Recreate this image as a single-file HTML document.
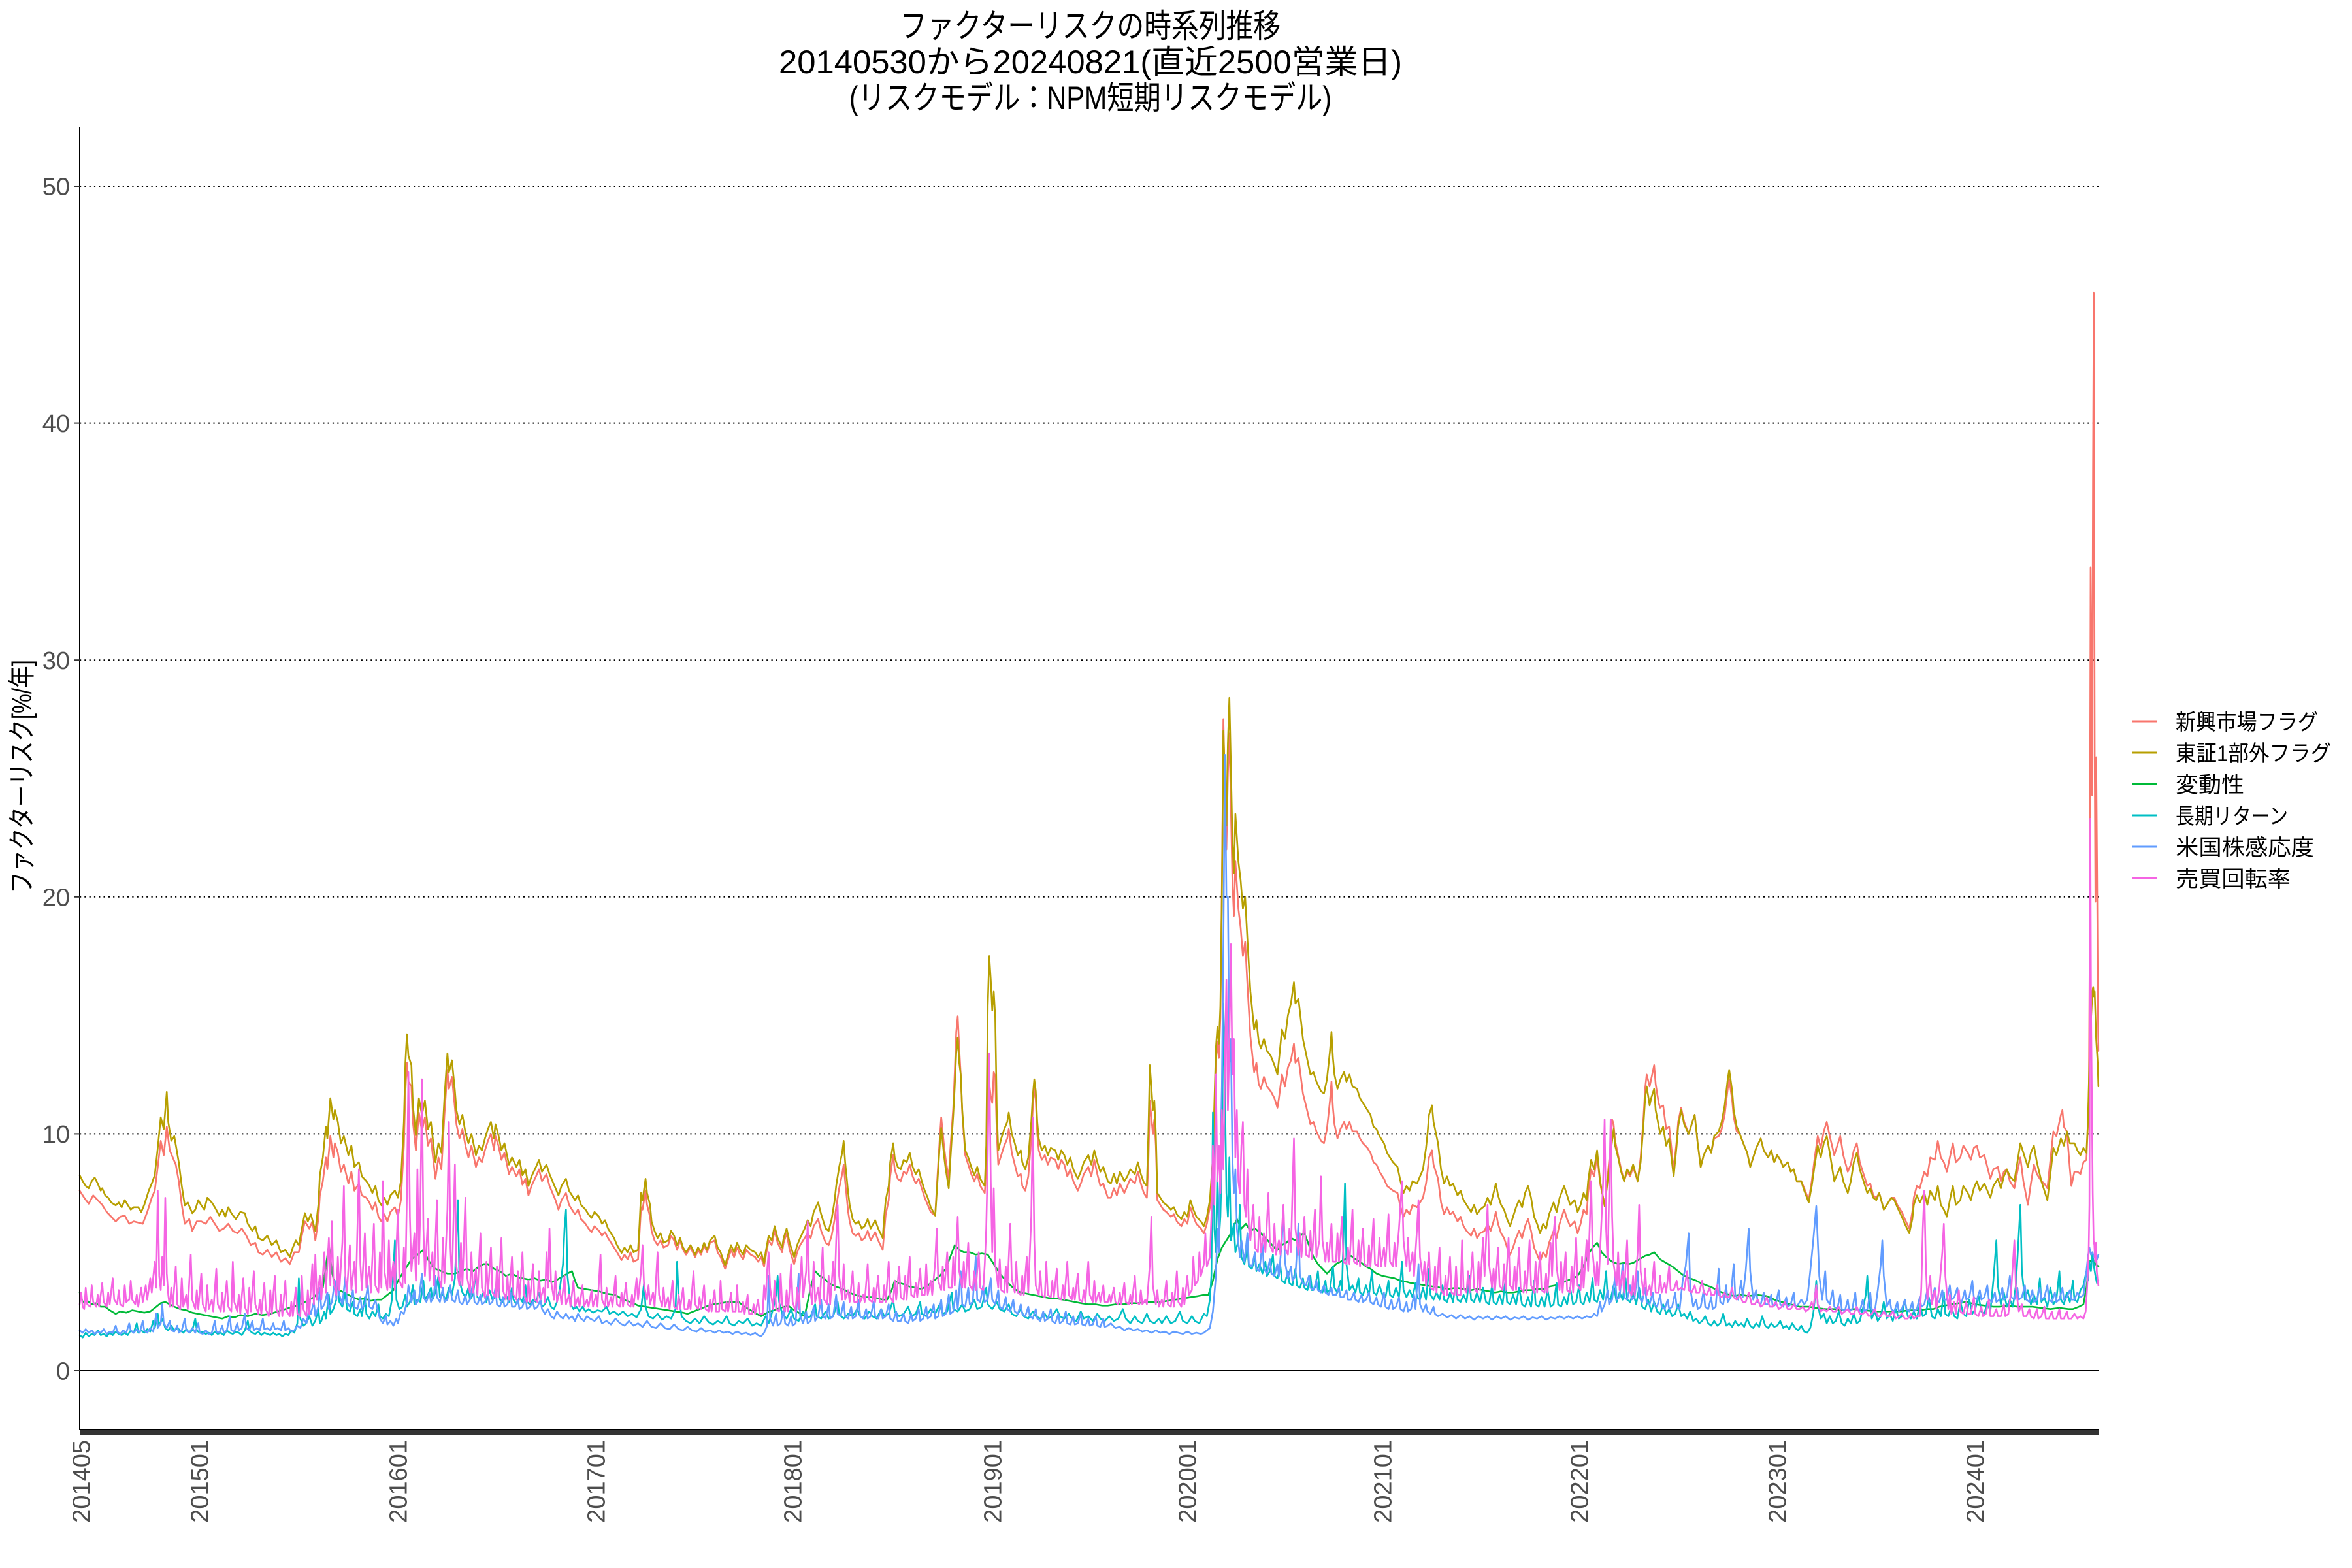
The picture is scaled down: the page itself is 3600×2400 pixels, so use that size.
<!DOCTYPE html>
<html>
<head>
<meta charset="utf-8">
<style>
html,body{margin:0;padding:0;background:#ffffff;}
svg{display:block;}
.jp{font-family:"Liberation Sans","Noto Sans CJK JP",sans-serif;}
.tick{font-family:"Liberation Sans",sans-serif;font-size:38px;fill:#4D4D4D;}
.s{fill:none;stroke-width:2.6;stroke-linejoin:round;stroke-linecap:round;vector-effect:non-scaling-stroke;}
</style>
</head>
<body>
<svg width="3600" height="2400" viewBox="0 0 3600 2400" xmlns="http://www.w3.org/2000/svg">
<rect x="0" y="0" width="3600" height="2400" fill="#ffffff"/>

<g class="jp" fill="#000000" font-size="50">
  <text x="1377" y="57" textLength="583" lengthAdjust="spacingAndGlyphs">ファクターリスクの時系列推移</text>
  <text x="1192" y="112" textLength="954" lengthAdjust="spacingAndGlyphs">20140530から20240821(直近2500営業日)</text>
  <text x="1300" y="167" textLength="738" lengthAdjust="spacingAndGlyphs">(リスクモデル：NPM短期リスクモデル)</text>
</g>

<g stroke="#000000" stroke-width="2" stroke-dasharray="2.2 5.1" fill="none">
  <line x1="122" x2="3212" y1="1735.4" y2="1735.4"/>
  <line x1="122" x2="3212" y1="1372.8" y2="1372.8"/>
  <line x1="122" x2="3212" y1="1010.2" y2="1010.2"/>
  <line x1="122" x2="3212" y1="647.6" y2="647.6"/>
  <line x1="122" x2="3212" y1="285" y2="285"/>
</g>

<g transform="matrix(2.2973 0 0 -36.26 0.243 2098)">
<path class="s" stroke="#F8766D" d="M53 7.6 56 7.3 59 7.05 62 7.4 65 7.2 68 7.0 71 6.7 74 6.5 77 6.3 80 6.5 83 6.55 86 6.2 89 6.3 92 6.25 95 6.2 98 6.7 101 7.3 103 7.6 105 8.6 107 9.7 109 9.1 111 10.3 113 9.3 115 9.0 117 8.7 119 8.0 121 7.0 123 6.2 126 6.4 128 5.9 131 6.3 134 6.3 137 6.2 140 6.5 143 6.2 146 5.9 149 6.0 152 6.2 155 5.9 158 5.8 161 6.0 164 5.7 167 5.3 170 5.4 172 5.0 175 4.9 178 5.1 181 4.8 184 5.0 187 4.6 190 4.75 193 4.5 196 5.0 199 5.0 201 5.7 203 6.3 206 6.0 208 6.3 210 5.5 212 6.4 213 7.4 215 8.0 217 9.0 218 8.5 220 9.9 222 9.0 223 9.6 225 9.2 227 8.4 229 8.7 232 7.9 234 8.4 236 7.6 239 7.9 241 7.4 244 7.3 246 7.1 248 6.8 250 7.1 252 6.5 254 6.3 256 6.6 258 6.3 260 6.7 263 6.9 265 6.5 267 7.2 269 9.5 270 11.8 271 13.0 272 12.2 274 12.0 275 10.5 277 9.3 279 10.9 281 10.1 283 10.7 285 9.5 287 9.8 290 8.1 292 9.0 294 8.5 296 10.8 298 12.7 299 11.9 301 12.4 303 11.1 304 10.4 306 9.8 308 10.2 310 9.5 312 9.0 314 9.5 317 8.6 319 9.0 321 8.8 323 9.3 325 9.7 327 10.0 329 9.3 330 9.9 332 9.5 334 8.9 336 9.2 339 8.3 341 8.6 344 8.2 346 8.5 348 7.85 350 8.1 352 7.4 354 7.8 357 8.2 359 8.5 361 8.0 364 8.3 366 7.8 368 7.5 370 7.2 372 6.8 374 7.2 377 7.5 379 7.0 381 6.8 383 6.6 385 6.8 387 6.4 390 6.2 392 6.0 394 5.85 396 6.1 399 5.9 401 5.7 403 5.85 405 5.6 407 5.4 409 5.2 411 5.0 414 4.67 416 4.9 418 4.7 420 5.0 422 4.6 425 4.7 427 6.9 428 6.8 430 7.6 431 7.0 433 6.5 434 5.9 436 5.5 438 5.3 440 5.5 442 5.2 445 5.3 447 5.7 449 5.5 451 5.1 453 5.5 455 5.1 457 4.9 460 5.2 463 4.8 465 5.1 467 4.9 469 5.3 471 5.0 473 5.4 476 5.5 478 5.0 480 4.8 483 4.3 485 4.7 487 5.1 489 4.8 491 5.2 493 4.9 495 4.7 497 5.1 500 4.9 503 4.8 505 4.6 507 4.8 509 4.4 510 4.8 512 5.5 514 5.3 516 5.9 518 5.4 521 5.0 522 5.4 524 5.8 526 5.1 529 4.5 531 5.0 533 5.3 536 5.6 538 5.8 540 5.6 542 6.1 545 6.4 547 5.9 550 5.4 552 5.3 554 5.7 556 6.4 557 6.9 559 7.7 561 8.3 562 8.7 563 8.0 565 6.7 566 6.3 568 5.8 570 5.7 572 5.8 574 5.5 576 5.6 578 5.9 580 5.5 583 5.85 585 5.5 588 5.1 590 6.6 592 7.2 593 8.2 595 9.1 596 8.5 598 8.1 600 8.0 602 8.4 604 8.3 606 8.7 608 8.2 610 7.9 612 8.1 614 7.7 616 7.3 618 7.0 620 6.7 623 6.55 624 7.7 626 9.8 627 10.7 629 9.4 630 8.9 632 8.1 633 9.3 635 11.1 636 12.6 637 14.3 638 14.96 639 13.6 640 12.5 641 10.9 643 9.1 645 8.7 647 8.3 649 8.0 651 8.3 653 7.8 656 7.5 657 8.5 658 12.4 659 12.1 660 11.6 661 11.3 662 12.6 663 12.4 664 10.0 665 8.7 667 9.1 669 9.5 671 9.8 672 10.2 674 9.2 676 8.7 678 8.2 680 8.3 681 7.8 683 7.6 685 8.2 687 9.8 688 11.1 689 12.0 690 11.4 691 10.0 692 9.3 694 8.9 696 9.1 698 8.7 700 9.0 703 8.9 705 8.5 707 8.9 709 8.7 711 8.2 713 8.5 715 8.0 718 7.6 720 7.9 722 8.3 725 8.6 727 8.2 729 8.9 731 8.3 733 7.8 735 7.9 738 7.3 740 7.3 742 7.7 744 7.4 746 7.9 749 7.5 751 7.8 753 8.1 756 7.9 758 8.4 760 7.9 762 7.5 764 7.3 765 8.8 766 11.4 767 10.7 768 10.0 769 10.6 770 9.5 771 7.2 773 7.0 775 6.8 777 6.7 780 6.5 782 6.6 784 6.3 787 6.1 789 6.4 791 6.2 793 6.9 795 6.5 797 6.2 800 6.0 802 5.8 804 6.2 806 6.9 808 8.5 810 13.0 811 13.9 812 13.2 813 14.9 814 20.5 815 27.5 816 24.5 817 22.0 818 25.2 819 26.9 820 23.8 821 20.7 822 19.2 823 21.5 825 19.5 826.5 18.7 828 17.5 829.5 18.1 831 16.3 833 14.1 835.5 12.6 837 13.0 838.5 12.1 840 11.9 842 12.4 844 12.0 846.5 11.8 849 11.5 851 11.1 852 11.5 854 12.5 856 12.0 858 12.8 860 13.1 862 13.8 863 13.0 865 13.2 867 12.2 868 11.7 870 11.2 873 10.4 875 10.5 877 10.1 880 9.7 882 9.6 884 10.2 886 11.4 887 12.2 888 11.1 889 10.4 891 9.8 893 10.2 895.4 10.5 897 10.2 899 10.5 901 10.1 904 10.1 906 9.8 908 9.6 911 9.4 913 9.2 915 8.8 917 8.7 919 8.4 922 8.1 924 7.8 926 7.7 928 7.6 931 7.5 933 6.9 935 6.5 937 6.8 939 6.6 941 7.0 944 6.9 946 7.1 948 7.3 950 7.9 951 8.4 952 9.0 954 9.3 955 8.7 957 8.3 958 8.1 960 7.1 962 6.6 964 6.9 966 6.6 968 6.7 971 6.3 973 6.5 975 6.1 977 5.9 980 5.7 982 6.0 984 5.6 986 5.8 989 5.9 991 6.2 993 5.9 995 6.3 996.5 6.7 998 6.2 1000 5.8 1002 5.6 1004 5.2 1006 4.9 1008 5.2 1010 5.6 1012 5.9 1014 5.6 1016 6.1 1018 6.4 1020 5.9 1022 5.2 1024 4.9 1026 4.6 1028 5.0 1030 4.8 1032 5.4 1035 5.9 1037 5.6 1039 6.2 1042 6.8 1044 6.4 1046 6.1 1049 6.3 1051 5.8 1053 6.2 1055 6.8 1057 6.6 1058 7.5 1060 8.5 1062 8.2 1064 9.1 1066 7.9 1069 7.0 1071 8.2 1073 9.5 1074 10.6 1075 10.4 1076 9.7 1078 9.1 1080 8.5 1082 8.0 1084 8.4 1086 8.2 1088 8.6 1091 8.0 1093 9.0 1095 10.8 1096 11.9 1097 12.5 1099 12.0 1100 12.3 1102 12.9 1103 12.1 1105 11.3 1106 11.1 1108 11.2 1110 10.2 1112 10.3 1115 8.5 1117 9.7 1118 10.5 1120 11.1 1122 10.5 1125 10.0 1127 10.4 1129 10.8 1131 9.6 1133 8.6 1135 9.1 1138 9.5 1140 9.2 1142 9.8 1145 9.9 1147 10.2 1149 10.8 1151 11.9 1152 12.3 1154 11.4 1155 10.7 1157 10.1 1159 10.0 1162 9.5 1164 9.2 1166 8.6 1168 9.0 1170 9.4 1173 9.8 1175 9.3 1178 9.0 1180 9.3 1182 8.8 1184 9.1 1186 8.9 1188 8.6 1191 8.8 1193 8.4 1195 8.5 1197 8.0 1200 8.0 1202 7.7 1205 7.2 1207 8.0 1209 9.0 1211 9.9 1213 9.4 1215 10.1 1217 10.5 1219 9.9 1222 9.1 1224 9.5 1226 9.9 1228 9.1 1231 8.4 1233 8.7 1235 9.3 1237 9.6 1239 8.8 1241 8.4 1244 7.8 1246 7.9 1248 7.4 1250 7.3 1252 7.5 1255 6.8 1257 7.0 1260 7.3 1262 7.3 1264 7.0 1267 6.7 1269 6.4 1272 6.0 1274 6.7 1275 7.3 1277 7.8 1279 7.7 1282 8.4 1284 8.2 1286 9.0 1289 8.9 1291 9.7 1293 9.0 1295 8.8 1297 8.4 1299 9.0 1301 9.6 1303 8.8 1306 9.0 1308 9.5 1311 9.2 1313 8.9 1315 9.4 1317 9.5 1319 9.0 1322 9.1 1324 8.6 1326 8.1 1328 8.5 1331 8.6 1333 8.0 1335 8.4 1337 8.5 1339 8.0 1342 7.7 1344 8.4 1346 9.0 1348 8.0 1351 7.0 1353 7.9 1355 8.7 1357 8.3 1360 8.0 1362 7.9 1364 7.7 1366 8.9 1368 10.1 1370 9.9 1373 10.8 1374 11.0 1375 10.3 1377 10.1 1379 8.5 1380 7.8 1382 8.4 1384 8.4 1386 8.3 1388 8.8 1390 8.9 1390.6 9.8 1391.1 10.5 1391.7 12.0 1392.2 18.0 1392.8 33.9 1393.3 29.0 1393.8 24.3 1394.4 38.0 1394.9 45.5 1395.5 26.0 1396 19.8 1396.5 25.9 1397.1 21.0 1397.6 16.0 1398 13.5"/>
<path class="s" stroke="#B79F00" d="M53 8.25 55 8.0 57 7.8 59 7.7 61 8.0 63 8.15 65 7.9 67 7.6 68 7.7 70 7.4 72 7.3 74 7.1 77 6.98 79 7.1 81 6.9 83 7.2 85 7.0 87 6.8 89 6.9 92 6.9 94 6.7 96 7.0 99 7.6 101 7.9 103 8.25 105 9.4 107 10.7 109 10.2 111 11.77 112 10.5 114 9.7 116 9.9 119 8.8 121 7.8 123 6.98 125 7.1 128 6.65 130 6.8 132 7.2 134 6.98 136 6.8 138 7.3 141 7.1 143 6.9 146 6.55 148 6.8 150 6.5 152 6.9 154 6.65 157 6.4 160 6.7 163 6.65 165 6.2 168 5.9 170 6.1 172 5.6 175 5.5 178 5.7 181 5.3 184 5.5 187 5.0 190 5.1 193 4.8 195 5.2 197 5.5 199 5.3 201 6.0 203 6.65 205 6.3 207 6.6 210 5.9 212 7.0 213 8.25 215 9.0 217 10.3 218 9.8 220 11.5 222 10.6 223 11.0 225 10.5 227 9.6 229 9.9 232 9.1 234 9.5 236 8.6 239 8.8 241 8.2 244 8.0 246 7.8 248 7.5 250 7.8 252 7.2 254 6.98 256 7.3 258 7.0 260 7.4 263 7.6 265 7.3 267 8.0 269 10.5 270 13.0 271 14.2 272 13.3 274 12.9 275 11.2 277 9.94 279 11.5 281 10.8 283 11.4 285 10.2 287 10.5 290 8.8 292 9.6 294 9.2 296 11.5 298 13.4 299 12.6 301 13.1 303 11.8 304 11.0 306 10.4 308 10.8 310 10.05 312 9.6 314 10.0 317 9.1 319 9.5 321 9.3 323 9.8 325 10.2 327 10.5 329 9.8 330 10.4 332 9.94 334 9.3 336 9.6 339 8.7 341 9.0 344 8.6 346 8.9 348 8.25 350 8.5 352 7.8 354 8.2 357 8.6 359 8.9 361 8.4 364 8.7 366 8.3 368 8.0 370 7.7 372 7.4 374 7.8 377 8.1 379 7.6 381 7.4 383 7.2 385 7.4 387 7.0 390 6.8 392 6.6 394 6.45 396 6.7 399 6.5 401 6.2 403 6.35 405 6.0 407 5.8 409 5.6 411 5.3 414 4.97 416 5.2 418 5.0 420 5.3 422 5.0 425 5.1 426 6.2 427 7.5 428 7.2 430 8.1 431 7.5 433 7.0 434 6.3 436 5.9 438 5.6 440 5.8 442 5.4 445 5.5 447 5.9 449 5.7 451 5.3 453 5.6 455 5.2 457 5.0 460 5.3 463 4.9 465 5.2 467 5.0 469 5.4 471 5.1 473 5.5 476 5.7 478 5.2 480 5.0 483 4.45 485 4.9 487 5.3 489 5.0 491 5.4 493 5.1 495 4.9 497 5.3 500 5.1 503 5.0 505 4.8 507 5.0 509 4.55 510 5.0 512 5.7 514 5.5 516 6.1 518 5.6 521 5.2 522 5.6 524 6.0 526 5.4 529 4.8 531 5.3 533 5.6 536 6.0 538 6.35 540 6.1 542 6.7 545 7.1 547 6.6 550 6.0 552 5.9 554 6.4 556 7.2 557 7.8 559 8.6 561 9.2 562 9.7 563 8.8 565 7.5 566 7.0 568 6.4 570 6.2 572 6.3 574 6.0 576 6.1 578 6.4 580 6.0 583 6.35 585 6.0 588 5.6 589 6.5 590 7.2 592 7.8 593 8.8 595 9.6 596 9.0 598 8.6 600 8.5 602 8.9 604 8.8 606 9.2 608 8.6 610 8.3 612 8.5 614 8.0 616 7.6 618 7.3 620 6.9 623 6.55 624 7.5 626 9.5 627 10.25 629 9.0 630 8.5 632 7.7 633 8.8 635 10.8 636 12.0 637 13.4 638 14.06 639 13.0 640 12.5 641 11.0 643 9.3 645 9.0 647 8.6 649 8.25 651 8.6 653 8.1 656 7.8 657 9.5 658 15.4 659 17.5 660 16.5 661 15.2 662 16.0 663 14.9 664 11.0 665 9.3 667 9.8 669 10.2 671 10.5 672 10.9 674 10.0 676 9.6 678 9.1 680 9.3 681 8.8 683 8.5 685 9.0 687 10.5 688 11.6 689 12.3 690 11.8 691 10.5 692 9.8 694 9.3 696 9.5 698 9.1 700 9.4 703 9.3 705 8.9 707 9.3 709 9.1 711 8.7 713 9.0 715 8.5 718 8.1 720 8.4 722 8.8 725 9.1 727 8.7 729 9.3 731 8.8 733 8.4 735 8.6 738 8.0 740 7.9 742 8.3 744 7.9 746 8.4 749 8.0 751 8.2 753 8.5 756 8.3 758 8.8 760 8.3 762 7.94 764 7.8 765 10.0 766 12.9 767 12.0 768 11.0 769 11.4 770 10.0 771 7.5 773 7.3 775 7.1 777 7.0 780 6.8 782 6.9 784 6.6 787 6.4 789 6.7 791 6.5 793 7.2 795 6.8 797 6.5 800 6.3 802 6.1 804 6.5 806 7.2 808 9.0 810 13.6 811 14.5 812 13.8 813 15.4 814 20.0 815 27.0 816 25.0 817 23.0 818 26.5 819 28.4 820 25.5 821 22.5 822 21.0 823 23.5 825 21.5 826.5 20.7 828 19.5 829.5 20.0 831 18.2 833 16.0 835.5 14.4 837 14.8 838.5 13.9 840 13.6 842 14.0 844 13.5 846.5 13.3 849 12.9 851 12.5 852 13.1 854 14.4 856 14.0 858 15.0 860 15.5 862 16.4 863 15.5 865 15.7 867 14.6 868 14.0 870 13.4 873 12.5 875 12.6 877 12.2 880 11.8 882 11.7 884 12.3 886 13.5 887 14.3 888 13.2 889 12.5 891 11.9 893 12.3 895.4 12.6 897 12.2 899 12.5 901 12.0 904 11.9 906 11.5 908 11.3 911 11.0 913 10.8 915 10.3 917 10.2 919 9.9 922 9.6 924 9.2 926 9.0 928 8.8 931 8.6 933 8.0 935 7.5 937 7.8 939 7.6 941 8.0 944 7.9 946 8.2 948 8.5 950 9.4 951 10.0 952 10.8 954 11.2 955 10.5 957 9.9 958 9.6 960 8.5 962 7.9 964 8.2 966 7.8 968 7.9 971 7.4 973 7.6 975 7.2 977 7.0 980 6.7 982 7.0 984 6.6 986 6.8 989 6.95 991 7.3 993 7.0 995 7.5 996.5 7.9 998 7.4 1000 7.0 1002 6.8 1004 6.4 1006 6.1 1008 6.5 1010 6.9 1012 7.2 1014 6.9 1016 7.5 1018 7.8 1020 7.3 1022 6.5 1024 6.2 1026 5.8 1028 6.2 1030 6.0 1032 6.6 1035 7.1 1037 6.7 1039 7.3 1042 7.8 1044 7.4 1046 7.0 1049 7.2 1051 6.7 1053 7.0 1055 7.5 1057 7.2 1058 8.0 1060 8.9 1062 8.5 1064 9.3 1066 8.0 1069 6.95 1071 8.0 1073 9.2 1075 10.2 1076 9.5 1078 9.0 1080 8.4 1082 8.0 1084 8.5 1086 8.3 1088 8.7 1091 8.0 1093 8.8 1095 10.5 1096 11.5 1097 12.0 1099 11.2 1100 11.5 1102 11.9 1103 11.0 1106 10.0 1108 10.3 1110 9.5 1112 9.8 1115 8.2 1117 9.5 1118 10.3 1120 11.0 1122 10.4 1125 10.0 1127 10.4 1129 10.8 1131 9.6 1133 8.6 1135 9.1 1138 9.5 1140 9.2 1142 9.9 1145 10.1 1147 10.5 1149 11.2 1151 12.3 1152 12.7 1154 11.8 1155 11.0 1157 10.3 1159 10.0 1162 9.5 1164 9.2 1166 8.6 1168 9.0 1170 9.4 1173 9.8 1175 9.3 1178 9.0 1180 9.3 1182 8.8 1184 9.1 1186 8.9 1188 8.6 1191 8.8 1193 8.4 1195 8.5 1197 8.0 1200 8.0 1202 7.6 1205 7.1 1207 7.8 1209 8.7 1211 9.5 1213 9.0 1215 9.6 1217 9.9 1219 9.2 1222 8.0 1224 8.3 1226 8.6 1228 8.0 1231 7.5 1233 8.0 1235 8.8 1237 9.2 1239 8.5 1241 8.1 1244 7.5 1246 7.7 1248 7.3 1250 7.2 1252 7.5 1255 6.8 1257 7.0 1260 7.3 1262 7.2 1264 6.9 1267 6.5 1269 6.2 1272 5.8 1274 6.4 1275 7.0 1277 7.4 1279 7.1 1282 7.5 1284 7.0 1286 7.6 1289 7.2 1291 7.8 1293 7.0 1295 6.8 1297 6.5 1299 7.2 1301 7.8 1303 7.0 1306 7.2 1308 7.8 1311 7.5 1313 7.2 1315 7.7 1317 8.0 1319 7.6 1322 7.9 1324 7.6 1326 7.3 1328 7.8 1331 8.1 1333 7.7 1335 8.2 1337 8.5 1339 8.2 1342 8.0 1344 8.8 1346 9.6 1348 9.2 1351 8.6 1353 9.2 1355 9.5 1357 8.8 1360 8.0 1362 7.6 1364 7.2 1366 8.3 1368 9.4 1370 9.1 1373 9.8 1375 9.5 1377 10.1 1379 9.6 1382 9.6 1384 9.3 1386 9.1 1388 9.4 1390 9.2 1391 10.5 1392 13.0 1393 14.8 1394 16.0 1394.5 16.2 1395 15.8 1395.5 16.0 1396 15.0 1396.5 14.0 1397 13.5 1397.5 13.0 1398 12.0"/>
<path class="s" stroke="#00BA38" d="M53 3.3 55 2.9 58 2.95 61 2.8 64 2.85 67 2.7 70 2.7 73 2.55 77 2.4 80 2.5 84 2.45 88 2.55 92 2.5 96 2.45 100 2.5 104 2.7 107 2.85 110 2.9 113 2.8 116 2.7 120 2.6 124 2.55 128 2.45 132 2.4 136 2.35 140 2.3 144 2.25 148 2.2 152 2.3 156 2.25 160 2.35 165 2.3 170 2.4 175 2.35 180 2.4 185 2.5 190 2.6 195 2.7 200 2.8 203 2.9 206 3.0 209 3.1 212 3.3 215 3.5 217 4.4 219 5.3 221 4.2 223 3.6 226 3.4 229 3.3 232 3.2 235 3.1 239 3.0 243 3.05 247 2.95 251 3.0 254 3.0 258 3.2 262 3.4 266 3.9 270 4.3 274 4.7 278 4.9 282 5.1 285 4.7 288 4.4 290 4.3 294 4.2 298 4.1 303 4.1 307 4.2 311 4.3 315 4.2 319 4.4 322 4.5 325 4.5 329 4.3 333 4.2 337 4.0 341 4.1 345 3.95 348 3.9 352 3.85 356 3.9 360 3.8 364 3.85 368 3.75 370 3.8 374 3.95 378 4.1 381 4.2 383 3.8 385 3.5 389 3.45 394 3.4 399 3.35 404 3.25 410 3.2 415 3.0 420 2.9 425 2.75 430 2.7 435 2.65 440 2.6 445 2.55 450 2.5 455 2.45 458 2.4 462 2.5 466 2.6 470 2.7 475 2.8 480 2.85 485 2.9 490 2.9 492 2.9 496 2.7 500 2.55 504 2.4 507 2.3 511 2.45 515 2.55 520 2.65 525 2.75 528 2.6 532 2.45 536 2.3 538 2.9 540 3.5 543 4.2 546 4.0 549 3.9 552 3.7 555 3.6 559 3.5 563 3.4 566 3.3 569 3.2 573 3.15 577 3.1 581 3.1 585 3.05 588 3.0 591 3.0 594 3.4 596 3.8 599 3.7 602 3.65 606 3.55 610 3.5 614 3.45 618 3.6 622 3.8 626 4.0 630 4.3 633 4.8 636 5.3 639 5.1 642 5.0 646 5.0 650 4.9 654 4.95 658 4.9 662 4.5 666 4.1 670 3.8 674 3.55 677 3.4 680 3.3 684 3.25 688 3.2 692 3.15 696 3.1 700 3.05 704 3.05 708 3.0 712 2.95 716 2.9 720 2.85 725 2.8 730 2.8 734 2.75 738 2.75 743 2.8 748 2.8 753 2.85 758 2.85 763 2.9 768 2.9 773 2.9 778 2.95 783 3.0 788 3.05 793 3.1 798 3.15 802 3.2 805 3.2 808 3.8 811 4.7 814 5.2 817 5.5 820 5.8 822 6.1 824 6.4 827 6.0 830 6.2 833 5.9 836 6.0 840 5.8 843 5.6 846 5.4 849 5.2 851 5.1 854 5.3 857 5.4 860 5.6 863 5.5 866 5.7 869 5.8 872 5.3 875 4.8 878 4.5 881 4.3 884 4.1 887 4.3 890 4.5 893 4.6 896 4.7 900 4.85 903 4.7 906 4.6 910 4.4 913 4.3 917 4.1 921 4.0 925 3.95 929 3.9 933 3.8 937 3.75 940 3.7 945 3.65 950 3.6 955 3.55 960 3.5 965 3.45 970 3.5 975 3.45 980 3.4 984 3.45 988 3.4 992 3.35 996 3.3 1000 3.35 1004 3.3 1008 3.3 1012 3.35 1016 3.4 1020 3.4 1024 3.45 1028 3.45 1032 3.55 1036 3.6 1040 3.7 1044 3.8 1048 3.9 1051 4.0 1055 4.4 1058 4.9 1061 5.2 1064 5.4 1067 5.0 1070 4.8 1074 4.6 1078 4.5 1082 4.55 1085 4.5 1088 4.55 1092 4.7 1096 4.85 1099 4.9 1102 5.0 1106 4.7 1110 4.55 1114 4.4 1118 4.2 1122 4.0 1126 3.9 1130 3.8 1133 3.7 1137 3.6 1141 3.5 1145 3.35 1150 3.25 1155 3.15 1160 3.2 1165 3.15 1170 3.2 1177 3.15 1182 3.0 1187 2.9 1193 2.8 1199 2.7 1205 2.7 1210 2.65 1216 2.6 1222 2.6 1228 2.55 1235 2.6 1242 2.55 1250 2.5 1258 2.5 1266 2.5 1272 2.55 1278 2.55 1284 2.6 1288 2.6 1292 2.7 1296 2.75 1300 2.8 1305 2.85 1310 2.9 1316 2.8 1322 2.75 1328 2.7 1332 2.7 1338 2.75 1344 2.7 1350 2.7 1354 2.7 1360 2.65 1366 2.6 1372 2.65 1378 2.6 1381 2.6 1385 2.7 1388 2.8 1390 3.5 1392 4.6 1394 4.7 1396 4.5 1398 4.4"/>
<path class="s" stroke="#00BFC4" d="M53 1.5 55 1.4 57 1.6 59 1.45 61 1.55 63 1.5 65 1.7 67 1.5 69 1.55 71 1.45 73 1.6 75 1.5 77 1.65 79 1.55 81 1.5 83 1.6 85 1.5 87 1.7 89 1.6 91 2.0 92 1.6 94 1.7 96 1.6 98 1.75 100 1.65 102 2.1 103 1.8 105 2.4 106 1.9 108 2.2 110 1.8 112 1.7 114 1.9 116 1.7 118 1.8 120 1.7 122 1.6 124 1.75 126 1.6 128 1.7 130 2.2 131 1.7 133 1.6 135 1.65 137 1.55 139 1.6 141 1.5 143 1.65 145 1.55 147 1.6 149 1.5 151 1.7 153 1.6 155 1.55 157 1.65 159 1.6 161 1.5 163 1.7 165 2.1 166 1.7 168 1.6 170 1.55 172 1.65 174 1.5 176 1.6 178 1.55 180 1.5 182 1.6 184 1.5 186 1.55 188 1.45 190 1.55 192 1.5 194 1.7 196 1.6 198 2.0 199 3.9 200 2.2 202 1.9 204 2.0 206 2.3 208 1.9 210 2.1 212 2.6 213 2.0 214 2.1 216 2.5 217 2.2 219 3.2 220 2.4 222 2.6 224 3.0 225 4.4 226 2.9 228 2.7 230 3.3 231 2.6 233 2.5 235 2.9 236 2.4 238 2.3 240 2.6 241 2.3 243 3.1 244 2.4 246 2.2 248 2.5 250 2.3 252 2.8 253 2.3 255 2.2 257 2.4 259 2.3 261 3.0 263 5.5 264 3.0 266 2.6 268 2.7 270 3.2 271 2.7 273 2.9 275 3.6 276 2.8 278 3.0 280 2.9 282 3.8 283 3.0 285 3.2 287 3.5 288 3.0 290 3.3 292 4.0 293 3.1 295 3.2 297 3.0 299 3.5 301 3.2 303 3.9 305 7.2 306 3.8 308 3.3 310 3.1 312 3.5 313 3.0 315 3.2 317 4.1 318 3.1 320 3.0 322 3.3 324 2.9 326 3.4 328 3.0 330 3.1 332 3.8 333 3.0 335 2.9 337 3.2 339 2.9 341 3.5 342 3.0 344 2.8 346 3.1 348 2.9 350 3.6 351 2.9 353 2.8 355 3.0 357 2.9 359 3.3 361 2.7 363 2.8 365 3.1 367 2.7 369 2.6 371 2.9 373 3.5 375 4.5 376 6.0 377 6.8 378 4.0 380 2.8 382 2.6 384 2.7 386 2.5 388 2.7 390 2.5 392 2.6 395 2.45 398 2.55 401 2.5 404 2.7 406 2.4 409 2.5 412 2.35 415 2.5 418 2.3 421 2.4 424 2.25 427 2.6 429 3.7 430 2.7 432 2.3 435 2.2 438 2.4 441 2.15 444 2.3 447 2.2 450 2.6 451 4.6 452 3.2 454 2.3 457 2.1 460 2.0 463 2.2 466 2.0 469 2.3 472 2.05 475 1.95 478 2.1 481 2.0 484 2.3 486 2.0 489 1.9 492 2.1 495 2.0 498 2.2 501 1.9 504 2.0 507 1.9 510 2.3 512 2.0 515 2.6 517 3.2 518 4.0 519 2.9 521 2.4 524 2.2 527 2.6 529 2.2 532 2.1 535 2.5 537 2.2 540 2.3 543 2.8 544 2.3 547 2.2 550 2.5 552 2.2 555 2.3 558 2.9 559 2.4 562 2.2 565 2.4 568 2.3 571 2.6 573 2.3 576 2.2 579 2.5 581 2.3 584 2.2 587 2.6 589 2.3 592 2.4 595 3.0 596 2.5 599 2.3 602 2.4 605 2.7 607 2.3 610 2.4 613 2.9 614 2.4 617 2.3 620 2.6 623 2.4 626 2.8 628 2.4 631 2.5 634 3.3 635 2.6 638 2.5 641 2.8 643 2.5 646 2.6 649 3.0 651 2.6 654 2.7 657 3.5 658 2.8 661 2.6 664 2.9 666 2.6 669 2.5 672 2.8 674 2.4 677 2.3 680 2.6 682 2.3 685 2.2 688 2.5 690 2.3 693 2.2 696 2.4 698 2.2 701 2.3 704 2.6 706 2.3 709 2.2 712 2.4 714 2.2 717 2.1 720 2.5 722 2.2 725 2.3 728 2.1 731 2.4 733 2.2 736 2.1 739 2.3 742 2.1 745 2.2 748 2.6 750 2.2 753 2.0 756 2.3 758 2.1 761 2.0 764 2.4 766 2.1 769 2.0 772 2.2 774 2.0 777 2.3 780 2.0 783 2.1 786 2.5 788 2.1 791 2.0 794 2.3 796 2.1 799 2.0 802 2.4 804 2.3 806 3.0 807 4.0 808 10.9 809 6.0 810 5.0 811 8.5 812 5.5 813 6.5 814 9.0 815 15.5 816 12.0 817 7.5 818 6.5 819 9.0 820 5.5 822 6.2 823 5.0 825 5.5 826 7.0 827 4.8 829 4.5 831 5.2 832 4.4 834 4.3 836 4.8 837 4.2 839 4.5 841 4.1 843 4.6 844 4.0 846 4.2 848 4.9 849 4.0 851 3.9 853 4.4 854 3.8 856 3.7 858 4.2 859 3.7 861 3.6 863 4.3 864 3.6 866 3.5 868 3.9 869 3.5 871 3.4 873 4.0 874 3.4 876 3.5 878 4.2 879 3.4 881 3.3 883 3.8 884 3.3 886 3.4 888 4.4 889 3.5 891 3.3 893 3.8 894 3.4 896 7.9 897 4.5 899 3.4 901 3.6 903 3.3 905 3.9 906 3.3 908 3.2 910 3.6 912 3.2 914 4.2 915 3.3 917 3.2 919 3.6 921 3.2 923 3.1 925 3.8 926 3.2 928 3.1 930 3.5 932 3.1 934 4.6 935 3.4 937 3.1 939 3.4 941 3.1 943 3.7 944 3.1 946 3.0 948 3.5 950 3.0 952 4.3 953 3.2 955 3.0 957 3.3 959 3.0 961 3.6 962 3.0 964 2.9 966 3.3 968 2.9 970 3.8 971 3.0 973 2.9 975 3.2 977 2.9 979 4.0 980 3.0 982 2.9 984 3.3 986 2.9 988 3.5 990 2.9 992 2.8 994 3.6 995 2.9 997 2.8 999 3.2 1001 2.8 1003 3.9 1004 2.9 1006 2.8 1008 3.2 1010 2.8 1012 3.5 1014 2.8 1016 2.7 1018 3.1 1020 2.7 1022 3.8 1023 2.8 1025 2.7 1027 3.1 1029 2.7 1031 3.4 1033 2.7 1035 2.8 1037 3.7 1038 2.8 1040 2.7 1042 3.1 1044 2.8 1046 3.5 1048 2.8 1050 2.9 1052 3.6 1053 2.9 1055 2.8 1057 3.3 1059 2.9 1061 3.9 1062 3.0 1064 2.9 1066 3.4 1068 3.0 1070 4.2 1071 3.1 1073 3.0 1075 3.6 1077 2.9 1079 3.3 1081 3.0 1083 3.9 1084 3.0 1086 2.9 1088 3.3 1090 2.8 1092 3.5 1094 2.7 1096 2.6 1098 3.0 1100 2.5 1102 2.9 1104 2.5 1106 2.4 1108 2.8 1110 2.4 1112 2.6 1114 2.3 1116 2.4 1118 2.8 1120 2.3 1122 2.4 1124 2.2 1126 2.5 1128 2.1 1130 2.2 1132 2.0 1134 2.1 1136 2.3 1138 2.0 1140 1.9 1142 2.1 1144 1.9 1146 2.0 1148 2.4 1150 1.9 1152 2.0 1154 1.85 1156 2.1 1158 1.9 1160 2.0 1162 1.85 1164 2.2 1166 1.9 1168 1.8 1170 2.0 1172 1.85 1174 2.3 1176 1.9 1178 1.8 1180 2.0 1182 1.85 1184 1.9 1186 2.1 1188 1.8 1190 1.9 1192 1.75 1194 2.0 1196 1.8 1198 1.7 1200 1.9 1202 1.65 1204 1.6 1206 1.8 1208 2.4 1209 3.0 1210 3.8 1211 2.8 1213 2.2 1215 2.4 1217 2.0 1219 2.3 1221 2.0 1223 2.1 1225 2.5 1227 2.0 1229 1.9 1231 2.2 1233 2.0 1235 2.4 1237 2.0 1239 2.1 1241 2.6 1243 3.2 1244 4.0 1245 3.0 1247 2.2 1249 2.5 1251 2.1 1253 2.3 1255 2.9 1257 2.2 1259 2.4 1261 2.1 1263 2.6 1265 2.2 1267 2.3 1269 3.0 1271 2.3 1273 2.2 1275 2.5 1277 2.2 1279 2.8 1281 2.3 1283 2.4 1285 3.1 1287 2.3 1289 2.2 1291 2.6 1293 2.3 1295 3.3 1296 2.4 1298 2.3 1300 2.7 1302 2.3 1304 2.2 1306 2.9 1308 2.4 1310 2.3 1312 3.0 1314 2.4 1316 2.6 1318 3.2 1320 2.5 1322 2.4 1324 2.9 1326 2.5 1328 3.8 1330 5.5 1331 3.6 1333 2.8 1335 3.3 1337 2.7 1339 3.0 1341 2.7 1343 3.6 1345 5.8 1346 7.0 1347 4.2 1349 3.0 1351 3.4 1353 2.8 1355 3.2 1357 2.8 1359 3.9 1360 2.9 1362 3.1 1364 2.7 1366 3.5 1368 2.8 1370 3.0 1372 4.2 1373 3.0 1375 2.8 1377 3.3 1379 2.9 1381 3.8 1382 3.0 1384 2.9 1386 3.4 1388 3.6 1390 4.2 1391 3.8 1392 4.6 1393 4.2 1394 5.0 1395 4.4 1396 4.0 1397 3.7 1398 3.8"/>
<path class="s" stroke="#619CFF" d="M53 1.7 55 1.6 57 1.75 59 1.6 61 1.7 63 1.55 65 1.65 67 1.6 69 1.75 71 1.55 73 1.65 75 1.6 77 1.9 78 1.65 80 1.55 82 1.7 84 1.6 86 2.0 87 1.7 89 1.6 91 1.75 93 1.6 95 2.1 96 1.7 98 1.6 100 1.8 102 1.65 104 2.4 105 1.8 107 2.0 108 2.8 109 2.0 111 1.8 113 2.1 114 1.7 116 1.65 118 1.9 119 1.6 121 1.7 123 2.2 124 1.7 126 1.6 128 1.8 130 1.6 132 2.0 133 1.6 135 1.55 137 1.7 139 1.55 141 1.6 143 2.1 144 1.65 146 1.6 148 1.9 149 1.6 151 1.7 153 2.3 154 1.7 156 1.65 158 2.0 159 1.7 161 1.8 163 2.4 164 1.8 166 1.7 168 2.1 169 1.7 171 1.8 173 1.7 175 2.2 176 1.75 178 1.8 180 1.7 182 2.0 183 1.75 185 1.8 187 1.7 189 2.1 190 1.7 192 1.8 194 1.65 196 1.7 198 1.9 200 1.8 202 2.2 204 2.0 206 2.6 207 2.4 209 2.9 210 2.3 212 2.7 213 3.5 214 2.6 216 2.8 218 3.3 219 2.6 221 2.9 223 3.8 224 3.0 225 4.6 226 3.2 228 2.8 230 4.0 231 2.9 233 2.7 235 3.4 236 2.7 238 2.6 240 3.1 241 2.6 243 2.8 245 3.6 246 2.7 248 2.6 250 3.0 251 2.7 253 2.2 255 2.0 257 2.3 258 1.95 260 2.1 262 1.9 264 2.2 265 2.0 267 2.5 269 2.4 271 2.9 272 3.6 274 2.9 276 3.4 277 2.8 279 3.0 281 4.1 282 3.1 284 2.9 286 3.3 287 2.9 289 3.2 290 4.0 291 3.1 293 2.9 295 3.5 296 2.9 298 3.0 300 3.6 301 3.0 303 2.9 305 3.4 306 2.9 308 2.8 310 3.2 311 2.8 313 3.0 315 3.7 316 2.9 318 2.8 320 3.2 321 2.8 323 2.9 325 3.3 326 2.8 328 2.9 330 3.5 331 2.8 333 2.7 335 3.1 336 2.7 338 2.8 340 3.3 341 2.7 343 2.7 345 3.0 346 2.6 348 2.7 350 3.1 351 2.6 353 2.7 355 2.9 356 2.6 358 2.7 360 3.0 361 2.6 363 2.4 365 2.6 367 2.3 369 2.2 371 2.5 373 2.3 375 2.2 377 2.4 379 2.2 381 2.3 383 2.1 385 2.4 387 2.2 389 2.1 391 2.3 393 2.2 396 2.1 399 2.3 401 2.0 404 2.1 407 1.95 410 2.2 413 2.0 416 1.9 419 2.1 422 1.9 425 2.0 428 1.85 431 2.1 434 1.85 437 1.8 440 2.0 443 1.8 446 1.75 449 1.95 452 1.75 455 1.7 458 1.85 461 1.7 464 1.65 467 1.8 470 1.65 473 1.7 476 1.6 479 1.7 482 1.6 485 1.65 488 1.55 491 1.65 494 1.55 497 1.6 500 1.5 503 1.6 505 1.5 507 1.45 509 1.6 511 1.9 512 4.0 513 2.2 515 1.9 517 2.4 518 1.9 520 2.0 522 2.6 523 2.0 525 1.9 527 2.3 528 1.9 530 2.0 532 4.1 533 2.3 535 2.0 537 2.5 538 2.0 540 2.1 542 2.7 543 2.1 545 2.3 547 3.0 548 2.3 550 2.2 552 2.8 553 2.2 555 2.3 557 3.2 558 2.4 560 2.3 562 2.9 563 2.3 565 2.2 567 2.7 568 2.2 570 2.3 572 3.0 573 2.3 575 2.2 577 2.6 578 2.2 580 2.3 582 2.9 583 2.3 585 2.2 587 2.6 588 2.2 590 2.3 592 2.8 593 2.2 595 2.1 597 2.5 598 2.1 600 2.1 602 2.4 603 2.1 605 2.0 607 2.4 608 2.1 610 2.2 612 2.6 613 2.1 615 2.2 617 2.7 618 2.2 620 2.3 622 2.8 623 2.2 625 2.3 627 3.0 628 2.3 630 2.4 632 3.2 633 2.4 635 2.5 637 3.4 638 2.6 640 4.2 641 2.8 643 2.7 645 3.5 646 2.8 648 2.9 650 4.8 651 3.0 653 2.9 655 3.6 656 2.9 658 3.0 660 3.9 661 3.0 663 2.8 665 3.4 666 2.7 668 2.6 670 3.1 671 2.6 673 2.5 675 3.0 676 2.5 678 2.4 680 2.8 681 2.4 683 2.3 685 2.7 686 2.3 688 2.2 690 2.6 691 2.2 693 2.1 695 2.5 696 2.1 698 2.2 700 2.6 701 2.1 703 2.0 705 2.4 706 2.0 708 2.1 710 2.5 711 2.0 713 1.95 715 2.3 716 1.95 718 2.0 720 2.4 721 1.95 723 1.9 725 2.2 726 1.9 728 1.95 730 2.3 731 1.9 733 1.85 735 2.2 736 1.85 738 1.9 740 2.0 743 1.8 746 1.85 749 1.7 752 1.8 755 1.7 758 1.75 761 1.65 764 1.7 767 1.6 770 1.7 773 1.6 776 1.65 779 1.55 782 1.65 785 1.6 788 1.55 791 1.65 794 1.55 797 1.6 800 1.55 802 1.6 804 1.7 806 1.8 808 2.5 810 4.0 811 6.0 812 5.0 813 9.0 814 12.0 815 18.0 816 26.0 817 20.0 818 20.0 819 13.0 820 14.0 821 9.0 822 7.5 823 8.5 824 6.0 826 4.8 827 5.5 829 4.6 831 5.8 832 4.5 834 4.4 836 5.0 837 4.3 839 4.2 841 5.4 842 4.3 844 4.1 846 4.7 847 4.1 849 4.0 851 4.5 852 4.0 854 5.5 855 6.9 856 4.6 858 3.9 860 4.4 861 3.8 863 4.0 865 6.2 866 4.0 868 3.7 870 3.6 872 4.0 873 3.5 875 3.4 877 3.8 878 3.4 880 3.3 882 3.6 883 3.3 885 3.2 887 3.5 888 3.2 890 3.2 892 3.5 893 3.1 895 3.1 897 3.4 898 3.0 900 3.0 902 3.3 903 3.0 905 2.9 907 3.2 908 2.9 910 3.0 912 3.3 913 2.9 915 2.8 917 3.1 918 2.8 920 2.7 922 3.3 923 2.7 925 2.6 927 3.0 928 2.6 930 2.7 932 3.1 933 2.6 935 2.5 937 2.9 938 2.5 940 2.6 942 3.2 943 2.6 945 4.5 946 2.8 948 2.5 950 2.8 951 2.5 953 2.4 955 2.7 956 2.4 958 2.3 961 2.4 964 2.25 967 2.35 970 2.2 973 2.35 976 2.2 979 2.3 982 2.15 985 2.3 988 2.2 991 2.3 994 2.15 997 2.3 1000 2.2 1003 2.3 1006 2.15 1009 2.25 1012 2.2 1015 2.3 1018 2.15 1021 2.25 1024 2.2 1027 2.3 1030 2.15 1033 2.25 1036 2.2 1039 2.3 1042 2.2 1045 2.3 1048 2.2 1051 2.3 1054 2.2 1057 2.3 1060 2.25 1062 2.4 1064 2.3 1066 2.9 1067 2.5 1069 2.8 1071 3.4 1072 2.8 1074 3.0 1076 4.0 1077 3.0 1079 3.1 1081 4.5 1082 3.1 1084 3.0 1086 3.6 1087 3.0 1089 3.1 1091 4.2 1092 3.1 1094 2.9 1096 3.5 1097 2.9 1099 2.8 1101 3.3 1102 2.8 1104 2.7 1106 3.2 1107 2.7 1109 2.6 1111 3.0 1112 2.6 1114 2.7 1116 3.3 1117 2.7 1119 2.6 1121 3.8 1123 4.4 1125 5.8 1126 3.5 1128 2.7 1130 3.0 1131 2.6 1133 2.7 1135 3.4 1136 2.7 1138 2.6 1140 3.1 1141 2.6 1143 2.7 1145 4.3 1146 2.9 1148 2.8 1150 3.6 1151 2.9 1153 3.1 1155 4.5 1156 3.2 1158 3.0 1160 3.8 1161 3.1 1163 4.2 1165 6.0 1166 4.2 1168 3.0 1170 3.4 1171 2.9 1173 2.8 1175 3.3 1176 2.8 1178 2.8 1180 3.2 1181 2.7 1183 2.8 1185 3.4 1186 2.8 1188 2.7 1190 3.1 1191 2.7 1193 2.8 1195 3.3 1196 2.7 1198 2.8 1200 3.0 1202 2.8 1204 3.0 1206 4.2 1208 5.5 1210 6.95 1211 5.5 1212 4.0 1214 3.0 1216 4.2 1217 3.0 1219 2.8 1221 3.4 1222 2.7 1224 2.6 1226 3.2 1227 2.6 1229 2.5 1231 3.0 1232 2.5 1234 2.6 1236 3.3 1237 2.6 1239 2.5 1241 3.0 1242 2.5 1244 2.6 1246 3.3 1247 2.6 1249 2.5 1251 3.4 1253 4.5 1254 5.5 1255 4.0 1257 2.7 1259 3.0 1260 2.6 1262 2.5 1264 2.9 1265 2.5 1267 2.6 1269 3.0 1270 2.6 1272 2.5 1274 2.9 1275 2.5 1277 2.6 1279 3.1 1280 2.7 1282 2.8 1284 3.4 1285 2.9 1287 3.0 1289 3.5 1290 3.0 1292 2.9 1294 3.4 1295 3.0 1297 3.0 1299 3.6 1300 3.0 1302 3.1 1304 3.5 1305 3.0 1307 2.9 1309 3.4 1310 3.0 1312 3.1 1314 3.8 1315 3.1 1317 3.0 1319 3.4 1320 3.0 1322 3.1 1324 3.6 1325 3.0 1327 2.9 1329 3.3 1330 2.9 1332 3.0 1334 3.5 1335 3.0 1337 3.1 1339 4.0 1340 3.1 1342 3.0 1344 3.5 1345 3.0 1347 3.1 1349 3.6 1350 3.0 1352 2.9 1354 3.4 1355 2.9 1357 3.0 1359 3.5 1360 3.0 1362 3.1 1364 3.6 1365 3.0 1367 2.9 1369 3.3 1370 2.9 1372 3.0 1374 3.5 1375 3.0 1377 3.1 1379 3.4 1380 3.0 1382 3.0 1384 3.3 1386 3.1 1388 3.2 1390 4.2 1391 4.8 1392 5.2 1393 4.9 1394 5.0 1395 4.8 1396 4.9 1397 4.7 1398 4.9"/>
<path class="s" stroke="#F564E3" d="M53 2.8 54 3.3 55 2.7 56 2.6 57 3.5 58 2.8 60 2.7 61 3.6 62 2.9 64 2.7 65 3.2 66 2.7 68 3.7 69 2.9 71 2.7 72 3.3 73 2.8 75 3.9 76 3.0 78 2.8 79 3.4 80 2.8 82 2.7 83 3.6 84 2.9 86 3.0 87 3.8 88 3.0 90 2.8 91 3.2 92 2.7 94 3.5 95 2.9 97 3.6 98 3.0 100 3.9 101 3.3 103 4.6 104 3.5 105 7.6 106 4.0 107 3.4 108 4.8 109 3.6 110 7.3 111 4.1 112 3.2 113 2.7 114 3.5 115 2.7 117 4.4 118 2.8 120 2.6 121 3.9 122 2.7 124 3.2 125 2.6 127 4.9 128 3.0 130 2.6 131 3.4 132 2.6 134 4.1 135 2.8 137 2.5 138 3.6 139 2.6 141 3.0 142 2.5 144 4.3 145 2.8 147 2.5 148 3.3 149 2.5 151 3.8 152 2.7 154 2.5 155 4.6 156 2.9 158 2.5 159 3.2 160 2.4 162 3.9 163 2.7 165 2.4 166 3.5 167 2.5 169 4.2 170 2.8 172 2.4 173 3.0 174 2.4 176 3.7 177 2.6 179 2.3 180 3.4 181 2.4 183 4.0 184 2.6 186 2.3 187 3.2 188 2.3 190 3.8 191 2.5 193 2.3 194 2.9 195 2.3 197 3.5 198 2.4 200 2.3 201 4.0 202 2.6 204 2.3 205 3.4 206 2.4 208 4.5 209 2.8 210 4.9 211 3.0 213 4.0 214 3.0 216 5.0 217 3.3 219 5.6 220 3.6 221 6.3 222 3.8 224 3.2 225 4.8 226 3.4 228 5.4 229 7.8 230 4.0 231 3.3 233 5.3 234 3.4 236 4.6 237 3.3 239 8.5 240 4.5 241 3.4 243 5.8 244 3.5 246 4.4 247 3.3 249 6.2 250 3.6 252 3.3 253 5.0 254 3.5 255 8.0 256 4.2 258 3.4 259 5.5 260 3.5 262 4.6 263 3.4 265 6.8 266 3.8 268 3.5 269 5.2 270 3.7 271 7.5 272 12.6 273 6.5 274 4.2 276 5.8 277 3.8 278 8.5 279 4.5 280 7.0 281 12.3 282 6.0 283 4.0 285 6.4 286 3.8 288 5.0 289 3.6 291 7.2 292 4.0 294 3.5 295 5.6 296 3.7 298 6.8 299 10.5 300 5.2 301 3.8 303 8.7 304 4.4 306 3.6 307 5.4 308 3.6 310 7.3 311 4.0 313 3.3 314 5.0 315 3.3 317 4.3 318 3.2 320 5.8 321 3.5 323 3.1 324 4.6 325 3.2 327 5.2 328 3.3 330 3.1 331 4.4 332 3.1 334 5.6 335 3.4 337 3.0 338 4.0 339 3.0 341 4.8 342 3.2 344 3.0 345 4.2 346 3.0 348 5.0 349 3.2 351 2.9 352 3.8 353 2.9 355 4.5 356 3.0 358 2.9 359 4.2 360 3.0 362 3.5 363 2.9 364 5.0 365 3.5 366 6.0 367 3.8 369 3.0 370 4.2 371 2.9 373 3.4 374 2.8 376 4.0 377 2.8 379 3.2 380 2.7 382 3.8 383 2.7 385 3.1 386 2.7 388 3.6 389 2.7 391 3.0 392 2.7 394 3.4 395 2.7 397 3.2 398 2.7 400 4.9 401 3.0 403 2.7 404 3.5 405 2.7 407 3.1 408 2.7 410 4.0 411 2.8 413 2.7 414 3.3 415 2.7 417 3.7 418 2.8 420 2.7 421 3.2 422 2.7 424 3.9 425 3.0 427 4.2 428 5.3 429 3.6 431 3.0 432 3.6 433 2.8 435 3.3 436 2.7 438 5.0 439 3.2 441 2.7 442 3.5 443 2.7 445 3.1 446 2.6 448 3.8 449 2.7 451 2.6 452 3.2 453 2.6 455 3.5 456 2.6 458 2.6 459 3.0 460 2.6 462 4.2 463 2.8 465 2.6 466 3.1 467 2.6 469 3.6 470 2.6 472 2.5 473 3.0 474 2.5 476 3.4 477 2.5 479 2.5 480 3.8 481 2.6 483 2.5 484 2.9 485 2.5 487 3.3 488 2.5 490 2.5 491 3.6 492 2.5 494 2.5 495 2.9 496 2.4 498 3.2 499 2.4 501 2.4 502 2.8 503 2.4 505 3.0 506 2.4 508 2.4 509 3.6 510 3.0 511 4.2 512 5.0 513 3.5 515 2.6 516 3.8 517 2.6 519 2.5 520 4.1 521 2.8 523 2.5 524 3.4 525 2.5 527 4.5 528 2.9 530 2.5 531 3.5 532 2.6 534 4.8 535 3.1 537 4.2 538 6.3 539 3.8 541 2.8 542 4.6 543 2.9 545 3.5 546 2.8 548 5.2 549 3.0 551 2.8 552 4.0 553 2.8 555 4.6 556 3.4 557 5.5 558 7.0 559 4.0 561 3.0 562 4.5 563 3.0 565 3.4 566 2.9 568 4.2 569 2.9 571 2.9 572 3.7 573 2.9 575 3.2 576 2.9 578 4.5 579 3.0 581 2.9 582 3.5 583 2.9 585 4.0 586 2.9 588 2.9 589 3.6 590 2.9 592 4.6 593 3.1 595 2.9 596 3.8 597 3.0 599 4.4 600 3.1 602 3.0 603 4.0 604 3.0 606 4.8 607 3.2 609 3.1 610 3.7 611 3.1 613 4.3 614 3.2 616 3.2 617 4.5 618 3.2 620 3.8 621 3.2 623 4.6 624 6.0 625 3.8 627 3.4 628 4.4 629 3.4 631 5.0 632 3.5 634 3.5 635 4.8 636 3.6 637 5.2 638 6.5 639 4.2 641 3.5 642 4.6 643 3.5 645 5.4 646 3.6 648 3.4 649 4.2 650 3.4 652 5.0 653 3.5 655 3.4 656 4.5 657 6.0 658 9.0 659 13.4 660 8.0 661 5.0 662 7.7 663 4.5 665 3.5 666 4.7 667 3.4 669 3.3 670 4.4 671 3.3 673 6.2 674 3.9 676 3.3 677 4.6 678 3.3 680 3.2 681 4.0 682 3.2 684 4.8 685 3.3 687 6.5 688 10.7 689 5.5 690 3.6 692 3.2 693 4.2 694 3.2 696 3.1 697 4.6 698 3.2 700 3.1 701 3.8 702 3.1 704 4.3 705 3.1 707 3.0 708 3.6 709 3.0 711 4.6 712 3.2 714 3.0 715 3.5 716 3.0 718 4.1 719 3.0 721 2.9 722 3.4 723 2.9 725 4.6 726 3.2 728 2.9 729 3.8 730 2.9 732 3.3 733 2.9 735 3.6 736 2.9 738 2.9 739 3.2 740 2.9 742 3.5 743 2.9 745 2.8 746 3.3 747 2.8 749 3.7 750 2.9 752 2.8 753 3.2 754 2.8 756 4.0 757 2.9 759 2.8 760 3.4 761 2.8 763 3.0 764 2.8 766 4.5 767 6.5 768 3.6 770 2.8 771 3.4 772 2.7 774 3.0 775 2.7 777 3.8 778 2.8 780 2.7 781 3.3 782 2.7 784 4.2 785 2.9 787 2.7 788 3.5 789 2.8 791 4.0 792 3.2 794 3.4 795 4.8 796 3.6 798 3.8 799 5.0 800 4.0 802 4.5 803 5.8 804 4.4 806 4.8 807 6.5 808 9.5 809 7.0 810 12.5 811 8.0 812 9.5 813 7.5 814 11.0 815 8.5 816 13.0 817 16.5 818 11.0 819 14.0 820 18.0 821 12.5 822 14.0 823 9.0 824 11.0 825 8.0 826 7.5 827 9.5 828 10.5 829 7.0 830 6.5 831 8.5 832 6.0 833 5.5 835 7.0 836 5.2 838 5.0 839 6.5 840 5.0 842 5.8 843 5.0 845 7.5 846 5.3 848 5.0 849 6.2 850 4.9 852 5.5 853 4.9 855 7.0 856 5.2 858 4.9 859 6.0 860 5.0 861 7.5 862 9.8 863 6.0 865 4.9 866 5.8 867 4.8 869 6.5 870 4.9 872 4.8 873 5.9 874 4.7 876 6.8 877 4.8 879 5.5 880 8.2 881 5.5 883 4.6 884 5.4 885 4.6 887 6.2 888 4.6 890 4.6 891 5.8 892 4.6 894 6.5 895 4.6 897 4.5 898 5.2 899 4.5 901 6.8 902 4.6 904 4.5 905 5.5 906 4.4 908 6.0 909 4.5 911 4.4 912 5.3 913 4.4 915 6.4 916 4.5 918 4.4 919 5.6 920 4.4 922 5.2 923 4.4 925 6.6 926 4.6 928 4.4 929 5.4 930 4.4 932 6.0 933 7.0 934 8.0 935 5.5 937 4.4 938 5.6 939 4.2 941 5.0 942 4.0 944 6.0 945 7.2 946 4.8 948 3.8 949 4.6 950 3.6 952 5.0 953 3.5 955 3.4 956 4.4 957 3.3 959 5.2 960 3.4 962 3.2 963 4.0 964 3.2 966 4.8 967 3.3 969 3.2 970 4.4 971 3.2 973 3.2 974 5.5 975 3.5 977 3.3 978 4.2 979 3.3 981 5.0 982 3.5 984 3.3 985 4.6 986 3.4 988 5.6 989 4.0 990 5.5 991 7.0 992 4.5 994 3.5 995 4.3 996 3.4 998 5.2 999 3.6 1001 3.4 1002 4.5 1003 3.4 1005 5.6 1006 3.6 1008 3.4 1009 4.4 1010 3.4 1012 5.2 1013 3.5 1015 3.3 1016 4.2 1017 3.3 1019 5.5 1020 3.6 1022 3.3 1023 4.6 1024 3.3 1026 5.0 1027 3.4 1029 3.3 1030 4.1 1031 3.3 1033 5.4 1034 4.0 1035 5.8 1036 6.5 1037 4.4 1039 3.4 1040 4.6 1041 3.3 1043 5.0 1044 3.4 1046 3.3 1047 4.4 1048 3.3 1050 5.6 1051 3.6 1053 3.4 1054 4.8 1055 3.5 1057 5.5 1058 4.2 1059 6.0 1060 8.0 1061 5.0 1063 3.6 1064 4.6 1065 3.6 1067 6.5 1068 8.0 1069 10.6 1070 6.0 1071 4.5 1072 7.5 1073 10.6 1074 6.5 1075 4.5 1077 3.6 1078 5.0 1079 3.4 1081 4.2 1082 3.3 1084 5.5 1085 3.4 1087 3.2 1088 4.0 1089 3.2 1091 5.0 1092 7.0 1093 4.2 1095 3.2 1096 4.3 1097 3.2 1099 3.6 1100 3.2 1102 4.6 1103 3.3 1105 3.3 1106 4.0 1107 3.3 1109 3.7 1110 3.3 1112 4.4 1113 3.4 1115 3.4 1117 3.8 1118 3.4 1120 3.5 1122 3.4 1124 4.2 1125 3.4 1127 3.3 1129 3.6 1130 3.3 1132 3.3 1134 3.8 1135 3.3 1137 3.2 1139 3.5 1140 3.2 1142 3.2 1144 3.6 1145 3.2 1147 3.1 1149 3.3 1150 3.1 1152 3.1 1154 3.5 1155 3.1 1157 3.0 1159 3.2 1161 2.9 1163 2.9 1165 3.3 1167 2.8 1169 2.8 1171 3.0 1173 2.7 1175 2.8 1177 3.1 1179 2.7 1181 2.7 1183 2.9 1185 2.6 1187 2.7 1189 2.9 1191 2.6 1193 2.6 1195 2.8 1197 2.6 1199 2.6 1201 2.7 1203 2.5 1205 2.6 1207 2.9 1208 2.6 1210 3.6 1211 2.8 1213 2.5 1215 2.6 1217 2.5 1219 2.7 1221 2.5 1223 2.5 1225 2.7 1227 2.4 1229 2.5 1231 2.6 1233 2.4 1235 2.4 1237 2.7 1239 2.4 1241 2.4 1243 2.5 1245 2.3 1247 2.4 1249 2.6 1251 2.3 1253 2.3 1255 2.5 1257 2.3 1259 2.3 1261 2.5 1263 2.2 1265 2.3 1267 2.4 1269 2.2 1271 2.2 1273 2.4 1275 2.2 1277 2.3 1279 2.3 1280 3.5 1281 6.0 1282 7.6 1283 4.5 1284 3.0 1286 4.0 1287 2.8 1289 3.4 1290 2.6 1292 3.5 1294 5.0 1295 6.2 1296 4.0 1298 2.6 1299 3.2 1300 2.4 1302 2.9 1303 2.4 1305 3.4 1306 2.5 1308 2.4 1310 2.9 1311 2.4 1313 2.4 1315 3.1 1316 2.4 1318 2.3 1320 2.7 1321 2.3 1323 2.4 1325 3.0 1326 2.3 1328 2.3 1330 2.6 1331 2.3 1333 2.3 1335 2.8 1336 2.3 1338 2.4 1340 3.5 1341 4.5 1342 5.5 1343 3.5 1345 2.5 1347 2.8 1348 2.3 1350 2.3 1352 2.6 1353 2.3 1355 2.2 1357 2.6 1358 2.2 1360 2.3 1362 2.7 1363 2.2 1365 2.2 1367 2.5 1368 2.2 1370 2.2 1372 2.6 1373 2.2 1375 2.2 1377 2.5 1378 2.2 1380 2.2 1382 2.4 1384 2.2 1386 2.3 1388 2.2 1389.5 2.5 1390.5 3.5 1391.5 5.0 1392 7.0 1392.6 23.3 1393.1 15.0 1393.7 11.0 1394.2 7.5 1394.8 5.5 1395.3 5.3 1395.8 4.6 1396.4 5.4 1396.9 4.2 1397.5 3.8 1398 3.6"/>
</g>

<line x1="122" x2="3212" y1="2098" y2="2098" stroke="#000000" stroke-width="2"/>

<line x1="122" x2="122" y1="194" y2="2189" stroke="#000000" stroke-width="2"/>
<line x1="121" x2="3212" y1="2188" y2="2188" stroke="#000000" stroke-width="2"/>
<rect x="122" y="2189" width="3090" height="8" fill="#333333"/>

<g stroke="#333333" stroke-width="2">
  <line x1="114" x2="122" y1="2098" y2="2098"/>
  <line x1="114" x2="122" y1="1735.4" y2="1735.4"/>
  <line x1="114" x2="122" y1="1372.8" y2="1372.8"/>
  <line x1="114" x2="122" y1="1010.2" y2="1010.2"/>
  <line x1="114" x2="122" y1="647.6" y2="647.6"/>
  <line x1="114" x2="122" y1="285" y2="285"/>
</g>
<g class="tick" text-anchor="end">
  <text x="107" y="2111.6">0</text>
  <text x="107" y="1749">10</text>
  <text x="107" y="1386.4">20</text>
  <text x="107" y="1023.8">30</text>
  <text x="107" y="661.2">40</text>
  <text x="107" y="298.6">50</text>
</g>

<g class="tick" text-anchor="end">
  <text transform="translate(137.6,2204) rotate(-90)">201405</text>
  <text transform="translate(318.6,2204) rotate(-90)">201501</text>
  <text transform="translate(622.6,2204) rotate(-90)">201601</text>
  <text transform="translate(925.6,2204) rotate(-90)">201701</text>
  <text transform="translate(1226.6,2204) rotate(-90)">201801</text>
  <text transform="translate(1532.6,2204) rotate(-90)">201901</text>
  <text transform="translate(1830.6,2204) rotate(-90)">202001</text>
  <text transform="translate(2129.6,2204) rotate(-90)">202101</text>
  <text transform="translate(2430.6,2204) rotate(-90)">202201</text>
  <text transform="translate(2733.6,2204) rotate(-90)">202301</text>
  <text transform="translate(3036.6,2204) rotate(-90)">202401</text>
</g>

<text class="jp" transform="translate(48,1189) rotate(-90)" text-anchor="middle" font-size="42" fill="#000000" textLength="358" lengthAdjust="spacingAndGlyphs">ファクターリスク[%/年]</text>

<g stroke-width="3">
  <line x1="3263" x2="3301" y1="1104" y2="1104" stroke="#F8766D"/>
  <line x1="3263" x2="3301" y1="1152" y2="1152" stroke="#B79F00"/>
  <line x1="3263" x2="3301" y1="1200" y2="1200" stroke="#00BA38"/>
  <line x1="3263" x2="3301" y1="1248" y2="1248" stroke="#00BFC4"/>
  <line x1="3263" x2="3301" y1="1296" y2="1296" stroke="#619CFF"/>
  <line x1="3263" x2="3301" y1="1344" y2="1344" stroke="#F564E3"/>
</g>
<g class="jp" font-size="34" fill="#000000">
  <text x="3330" y="1117" textLength="218" lengthAdjust="spacingAndGlyphs">新興市場フラグ</text>
  <text x="3330" y="1165" textLength="238" lengthAdjust="spacingAndGlyphs">東証1部外フラグ</text>
  <text x="3330" y="1213" textLength="105" lengthAdjust="spacingAndGlyphs">変動性</text>
  <text x="3330" y="1261" textLength="172" lengthAdjust="spacingAndGlyphs">長期リターン</text>
  <text x="3330" y="1309" textLength="212" lengthAdjust="spacingAndGlyphs">米国株感応度</text>
  <text x="3330" y="1357" textLength="176" lengthAdjust="spacingAndGlyphs">売買回転率</text>
</g>
</svg>
</body>
</html>
